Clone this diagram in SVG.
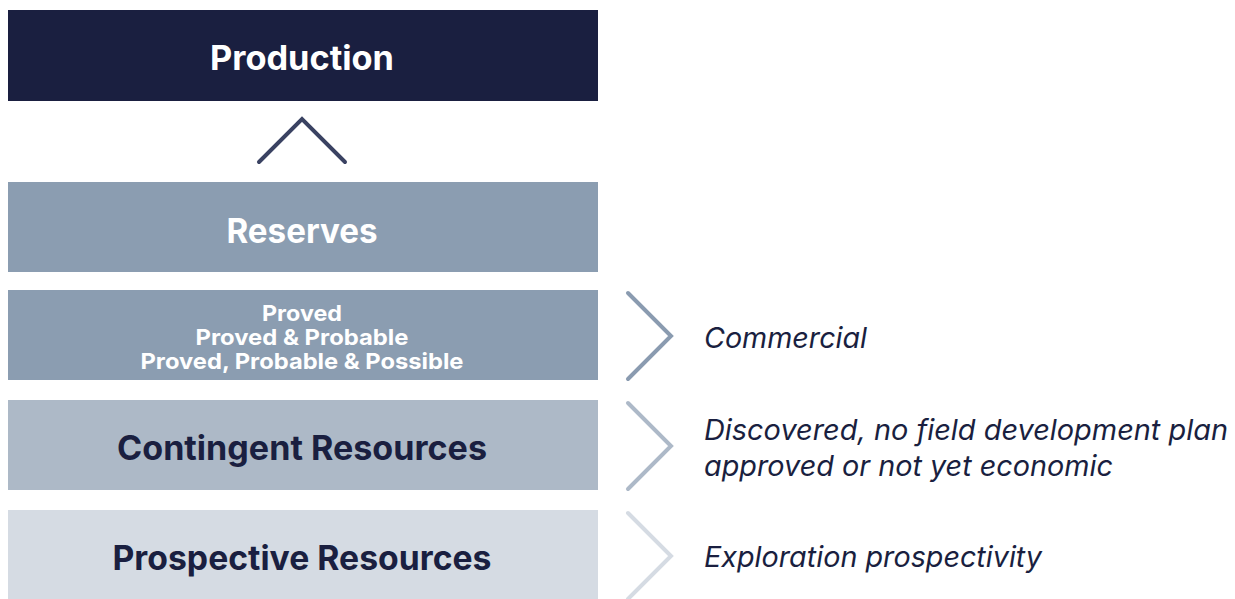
<svg xmlns="http://www.w3.org/2000/svg" width="1235" height="599" viewBox="0 0 1235 599">
<style>
.t{font-family:Inter,"Liberation Sans",sans-serif;font-weight:700;text-anchor:middle}
.w{fill:#ffffff}
.d{fill:#1a1f40}
.big{font-size:33.5px}
.sm{font-size:22px}
.it{font-family:Inter,"Liberation Sans",sans-serif;font-style:italic;font-size:28.5px;fill:#1a1f40}
.ch{fill:none;stroke-width:4;stroke-linecap:round;stroke-linejoin:miter}
</style>
<rect width="1235" height="599" fill="#ffffff"/>
<g id="production">
<rect x="8" y="10" width="590" height="91" fill="#1a1f40"/>
<text class="t w big" x="302" y="70" textLength="184" lengthAdjust="spacingAndGlyphs">Production</text>
</g>
<g id="reserves">
<rect x="8" y="182" width="590" height="90" fill="#8b9db1"/>
<text class="t w big" x="302" y="243" textLength="151" lengthAdjust="spacingAndGlyphs">Reserves</text>
</g>
<g id="proved">
<rect x="8" y="290" width="590" height="90" fill="#8b9db1"/>
<text class="t w sm" x="302" y="321" textLength="80" lengthAdjust="spacingAndGlyphs">Proved</text>
<text class="t w sm" x="302" y="345" textLength="213" lengthAdjust="spacingAndGlyphs">Proved &amp; Probable</text>
<text class="t w sm" x="302" y="369" textLength="323" lengthAdjust="spacingAndGlyphs">Proved, Probable &amp; Possible</text>
</g>
<g id="contingent">
<rect x="8" y="400" width="590" height="90" fill="#adb9c7"/>
<text class="t d big" x="302" y="460" textLength="370" lengthAdjust="spacingAndGlyphs">Contingent Resources</text>
</g>
<g id="prospective">
<rect x="8" y="510" width="590" height="89" fill="#d5dbe3"/>
<text class="t d big" x="302" y="570" textLength="379" lengthAdjust="spacingAndGlyphs">Prospective Resources</text>
</g>
<g id="connectors">
<polyline class="ch" points="259,162 302,119 345,162" stroke="#3a4262"/>
<polyline class="ch" points="628,293 671,336 628,379" stroke="#8a9bb0"/>
<polyline class="ch" points="628,403 671,446 628,489" stroke="#adb9c8"/>
<polyline class="ch" points="628,513 671,556 628,599" stroke="#d5dbe3"/>
</g>
<g id="labels">
<text class="it" x="704" y="348" textLength="163" lengthAdjust="spacingAndGlyphs">Commercial</text>
<text class="it" x="704" y="440" textLength="524" lengthAdjust="spacingAndGlyphs">Discovered, no field development plan</text>
<text class="it" x="704" y="476" textLength="409" lengthAdjust="spacingAndGlyphs">approved or not yet economic</text>
<text class="it" x="704" y="567" textLength="338" lengthAdjust="spacingAndGlyphs">Exploration prospectivity</text>
</g>
</svg>
